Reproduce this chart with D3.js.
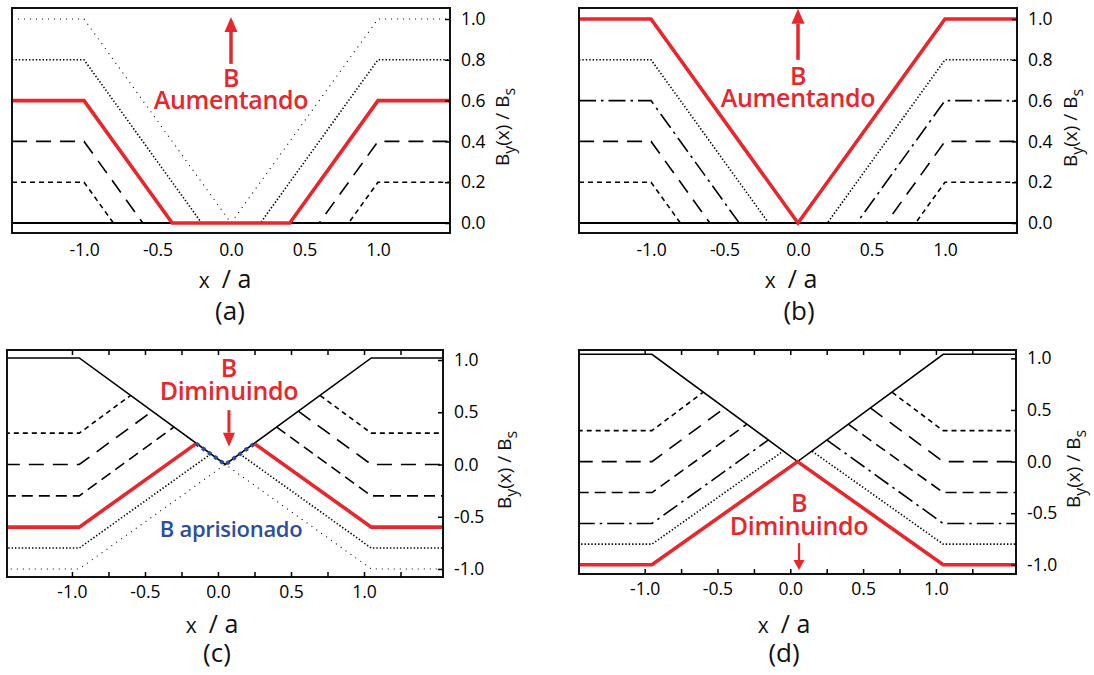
<!DOCTYPE html>
<html><head><meta charset="utf-8">
<script src="https://cdn.jsdelivr.net/npm/d3@7"></script>
<style>body{margin:0;background:#fff}svg{display:block}</style>
</head><body><svg id="chart" width="1094" height="675"></svg>
<script>
// ---------- data (x/a, By/Bs) ----------
// Panel (a): B increasing
const a10 = [[-1.49,1.0],[-1.0,1.0],[0.0,0.0],[1.0,1.0],[1.49,1.0]];
const a08 = [[-1.49,0.8],[-1.0,0.8],[-0.2,0.0],[0.2,0.0],[1.0,0.8],[1.49,0.8]];
const a06 = [[-1.49,0.6],[-1.0,0.6],[-0.4,0.0],[0.4,0.0],[1.0,0.6],[1.49,0.6]];
const a04 = [[-1.49,0.4],[-1.0,0.4],[-0.6,0.0],[0.6,0.0],[1.0,0.4],[1.49,0.4]];
const a02 = [[-1.49,0.2],[-1.0,0.2],[-0.8,0.0],[0.8,0.0],[1.0,0.2],[1.49,0.2]];
const a00 = [[-1.49,0.0],[1.49,0.0]];
// Panel (b): B increasing to full penetration
const b10 = [[-1.49,1.0],[-1.0,1.0],[0.0,0.0],[1.0,1.0],[1.49,1.0]];
const b08 = [[-1.49,0.8],[-1.0,0.8],[-0.2,0.0],[0.2,0.0],[1.0,0.8],[1.49,0.8]];
const b06 = [[-1.49,0.6],[-1.0,0.6],[-0.4,0.0],[0.4,0.0],[1.0,0.6],[1.49,0.6]];
const b04 = [[-1.49,0.4],[-1.0,0.4],[-0.6,0.0],[0.6,0.0],[1.0,0.4],[1.49,0.4]];
const b02 = [[-1.49,0.2],[-1.0,0.2],[-0.8,0.0],[0.8,0.0],[1.0,0.2],[1.49,0.2]];
const b00 = [[-1.49,0.0],[1.49,0.0]];
// Panel (c): B decreasing, trapped flux
const cV    = [[-1.46,1.02],[-0.95,1.02],[0.05,0.0],[1.05,1.02],[1.56,1.02]];
const cTrap = [[-0.15,0.2],[0.05,0.0],[0.25,0.2]];
const cP03  = [[-1.46,0.3],[-0.95,0.3],[-0.6,0.66],null,[0.7,0.66],[1.05,0.3],[1.56,0.3]];
const cP00  = [[-1.46,0.0],[-0.95,0.0],[-0.45,0.51],null,[0.55,0.51],[1.05,0.0],[1.56,0.0]];
const cM03  = [[-1.46,-0.3],[-0.95,-0.3],[-0.3,0.36],null,[0.4,0.36],[1.05,-0.3],[1.56,-0.3]];
const cM06  = [[-1.46,-0.6],[-0.95,-0.6],[-0.15,0.2],null,[0.25,0.2],[1.05,-0.6],[1.56,-0.6]];
const cM08  = [[-1.46,-0.8],[-0.95,-0.8],[-0.05,0.1],null,[0.15,0.1],[1.05,-0.8],[1.56,-0.8]];
const cM10  = [[-1.46,-1.0],[-0.95,-1.0],[0.05,0.0],[1.05,-1.0],[1.56,-1.0]];
// Panel (d): B decreasing to -Bs
const dV    = [[-1.46,1.04],[-0.95,1.04],[0.05,0.0],[1.05,1.04],[1.56,1.04]];
const dP03  = [[-1.46,0.3],[-0.95,0.3],[-0.6,0.67],null,[0.7,0.67],[1.05,0.3],[1.56,0.3]];
const dP00  = [[-1.46,0.0],[-0.95,0.0],[-0.45,0.52],null,[0.55,0.52],[1.05,0.0],[1.56,0.0]];
const dM03  = [[-1.46,-0.3],[-0.95,-0.3],[-0.3,0.36],null,[0.4,0.36],[1.05,-0.3],[1.56,-0.3]];
const dM06  = [[-1.46,-0.6],[-0.95,-0.6],[-0.15,0.21],null,[0.25,0.21],[1.05,-0.6],[1.56,-0.6]];
const dM08  = [[-1.46,-0.8],[-0.95,-0.8],[-0.05,0.1],null,[0.15,0.1],[1.05,-0.8],[1.56,-0.8]];
const dM10  = [[-1.46,-1.0],[-0.95,-1.0],[0.05,0.0],[1.05,-1.0],[1.56,-1.0]];

// tick values
const abYTicks = [0.0,0.2,0.4,0.6,0.8,1.0];
const cdYTicks = [-1.0,-0.5,0.0,0.5,1.0];
const xLabelTicks = [-1.0,-0.5,0.0,0.5,1.0];
const cdXMinor = [-1.0,-0.75,-0.5,-0.25,0.0,0.25,0.5,0.75,1.0,1.25];
const panelLetters = ["(a)","(b)","(c)","(d)"];
const upLabel = ["B","Aumentando"];
const downLabel = ["B","Diminuindo"];
const trappedLabel = "B aprisionado";

// ---------- styles ----------
const RED = "#e8262b", BLUE = "#2c4da0";
const STY = {
  solid:     {c:"#000", w:2,   dash:null},
  solidThin: {c:"#000", w:1.6, dash:null},
  thinDot:   {c:"#000", w:1.1, dash:"1,5"},
  denseDot:  {c:"#000", w:1.6, dash:"1.4,2"},
  longDash:  {c:"#000", w:1.6, dash:"15,9"},
  medDash:   {c:"#000", w:1.6, dash:"11,6"},
  shortDash: {c:"#000", w:1.6, dash:"5,4"},
  dashDot:   {c:"#000", w:1.6, dash:"17,5,2.5,5"},
  red:       {c:RED,    w:3.6, dash:null},
  blueDot:   {c:BLUE,   w:4,   dash:"3.5,4"}
};
const FONT = "'Open Sans', sans-serif";
const fmt = d => d.toFixed(1);
const svg = d3.select("#chart");

function drawPanel(cfg, idx) {
  const x = d3.scaleLinear().domain(cfg.xDom).range([cfg.x0, cfg.x1]);
  const y = d3.scaleLinear().domain(cfg.yDom).range([cfg.y1, cfg.y0]);
  const g = svg.append("g");
  const cid = "clip" + idx;
  svg.append("clipPath").attr("id", cid).append("rect")
    .attr("x", cfg.x0).attr("y", cfg.y0).attr("width", cfg.x1 - cfg.x0).attr("height", cfg.y1 - cfg.y0);
  const line = d3.line().defined(d => d !== null).x(d => x(d[0])).y(d => y(d[1]));
  const cg = g.append("g").attr("clip-path", `url(#${cid})`);
  cfg.series.forEach(s => {
    const st = STY[s.style];
    cg.append("path").attr("d", line(s.data)).attr("fill", "none")
      .attr("stroke", st.c).attr("stroke-width", st.w)
      .attr("stroke-dasharray", st.dash).attr("stroke-linejoin", "miter");
  });
  // frame
  g.append("rect").attr("x", cfg.x0).attr("y", cfg.y0)
    .attr("width", cfg.x1 - cfg.x0).attr("height", cfg.y1 - cfg.y0)
    .attr("fill", "none").attr("stroke", "#111").attr("stroke-width", 2);
  // right y axis
  const ya = g.append("g").attr("transform", `translate(${cfg.x1},0)`)
    .call(d3.axisRight(y).tickValues(cfg.yTicks).tickSize(-5).tickPadding(11).tickFormat(fmt));
  ya.select(".domain").remove();
  ya.attr("font-size", 17.5).attr("font-family", FONT);
  ya.selectAll("line").attr("stroke-width", 1.5);
  // bottom labels
  const xa = g.append("g").attr("transform", `translate(0,${cfg.y1})`)
    .call(d3.axisBottom(x).tickValues(xLabelTicks).tickSize(0).tickPadding(cfg.xPad).tickFormat(fmt));
  xa.select(".domain").remove();
  xa.attr("font-size", 17.5).attr("font-family", FONT);
  if (cfg.minor) {
    const tb = g.append("g").attr("transform", `translate(0,${cfg.y1})`)
      .call(d3.axisBottom(x).tickValues(cfg.minor).tickSize(-5).tickFormat(""));
    tb.select(".domain").remove(); tb.selectAll("line").attr("stroke-width", 1.5);
    const tt = g.append("g").attr("transform", `translate(0,${cfg.y0})`)
      .call(d3.axisTop(x).tickValues(cfg.minor).tickSize(-5).tickFormat(""));
    tt.select(".domain").remove(); tt.selectAll("line").attr("stroke-width", 1.5);
  }
  // y label (rotated)
  const yl = g.append("text").attr("transform", `translate(${cfg.ylx},${cfg.yly}) rotate(-90)`)
    .attr("text-anchor", "middle").attr("font-size", 19).attr("font-family", FONT).attr("fill", "#111");
  yl.append("tspan").text("B");
  yl.append("tspan").attr("dy", 6).attr("font-size", 16).text("y");
  yl.append("tspan").attr("dy", -6).text("(x) / B");
  yl.append("tspan").attr("dy", 6).attr("font-size", 16).text("s");
  // x label
  const xl = g.append("text").attr("x", cfg.xlx).attr("y", cfg.xly).attr("text-anchor", "middle")
    .attr("font-size", 25).attr("font-family", FONT).attr("fill", "#111");
  xl.append("tspan").attr("font-size", 21).text("x");
  xl.append("tspan").attr("dx", 12).text("/ a");
  // panel letter
  g.append("text").attr("x", cfg.plx).attr("y", cfg.ply).attr("text-anchor", "middle")
    .attr("font-size", 26).attr("font-family", FONT).attr("fill", "#111").text(panelLetters[idx]);
  // annotations
  (cfg.ann || []).forEach(a => {
    if (a.type === "arrow") {
      const x1 = x(a.x), yA = y(a.from), yB = y(a.to);
      const dir = yB < yA ? 1 : -1; // 1 = pointing up
      const base = yB + dir * a.hl;
      g.append("line").attr("x1", x1).attr("x2", x1).attr("y1", yA).attr("y2", base)
        .attr("stroke", RED).attr("stroke-width", a.w);
      g.append("path").attr("d", `M${x1},${yB} L${x1 - a.hw / 2},${base} L${x1 + a.hw / 2},${base} Z`).attr("fill", RED);
    } else {
      // one text element, lines as tspans
      const t = g.append("text").attr("text-anchor", "middle")
        .attr("font-size", a.size).attr("font-weight", 600).attr("font-family", FONT)
        .attr("letter-spacing", a.ls || 0).attr("fill", a.color);
      const lines = Array.isArray(a.text) ? a.text : [a.text];
      lines.forEach((s, i) => {
        t.append("tspan").attr("x", x(a.x)).attr("y", y(a.y) + i * (a.lh || 0)).text(s);
      });
    }
  });
  return {x, y};
}

const panels = [
  { x0:12, x1:450, y0:8, y1:233, xDom:[-1.49,1.49], yDom:[-0.049,1.054],
    yTicks:abYTicks, xPad:11, ylx:509, yly:127, xlx:225, xly:288, plx:230, ply:320,
    series:[{data:a10,style:"thinDot"},{data:a08,style:"denseDot"},{data:a04,style:"longDash"},
            {data:a02,style:"shortDash"},{data:a00,style:"solid"},{data:a06,style:"red"}],
    ann:[{type:"arrow",x:0,from:0.78,to:1.01,w:3.5,hw:13,hl:15},
         {type:"text",x:0,y:0.665,text:upLabel,lh:22,size:25,color:RED,ls:-0.3}] },
  { x0:579, x1:1017, y0:8, y1:233, xDom:[-1.49,1.49], yDom:[-0.049,1.054],
    yTicks:abYTicks, xPad:11, ylx:1077, yly:128, xlx:791, xly:288, plx:799, ply:320,
    series:[{data:b08,style:"denseDot"},{data:b06,style:"dashDot"},{data:b04,style:"longDash"},
            {data:b02,style:"shortDash"},{data:b00,style:"solid"},{data:b10,style:"red"}],
    ann:[{type:"arrow",x:0,from:0.80,to:1.05,w:3.5,hw:13,hl:15},
         {type:"text",x:0,y:0.677,text:upLabel,lh:22,size:25,color:RED,ls:-0.3}] },
  { x0:7, x1:443, y0:350, y1:577, xDom:[-1.445,1.541], yDom:[-1.077,1.096],
    yTicks:cdYTicks, minor:cdXMinor, xPad:9, ylx:511, yly:470, xlx:212, xly:633, plx:217, ply:662,
    series:[{data:cM10,style:"thinDot"},{data:cM08,style:"denseDot"},{data:cP03,style:"shortDash"},
            {data:cP00,style:"longDash"},{data:cM03,style:"medDash"},{data:cV,style:"solidThin"},
            {data:cM06,style:"red"},{data:cTrap,style:"blueDot"}],
    ann:[{type:"arrow",x:0.075,from:0.52,to:0.17,w:3,hw:12,hl:14},
         {type:"text",x:0.075,y:0.84,text:downLabel,lh:23,size:25,color:RED,ls:-0.3},
         {type:"text",x:0.09,y:-0.69,text:trappedLabel,size:22,color:BLUE,ls:-0.3}] },
  { x0:579, x1:1016, y0:350, y1:574, xDom:[-1.451,1.55], yDom:[-1.089,1.081],
    yTicks:cdYTicks, minor:cdXMinor, xPad:9, ylx:1080, yly:469, xlx:784, xly:633, plx:784, ply:662,
    series:[{data:dP03,style:"shortDash"},{data:dP00,style:"longDash"},{data:dM03,style:"medDash"},
            {data:dM06,style:"dashDot"},{data:dM08,style:"denseDot"},{data:dV,style:"solidThin"},
            {data:dM10,style:"red"}],
    ann:[{type:"arrow",x:0.06,from:-0.79,to:-1.05,w:2.2,hw:11,hl:10},
         {type:"text",x:0.06,y:-0.49,text:downLabel,lh:23,size:25,color:RED,ls:-0.3}] }
];
panels.forEach((p, i) => drawPanel(p, i));
</script></body></html>
